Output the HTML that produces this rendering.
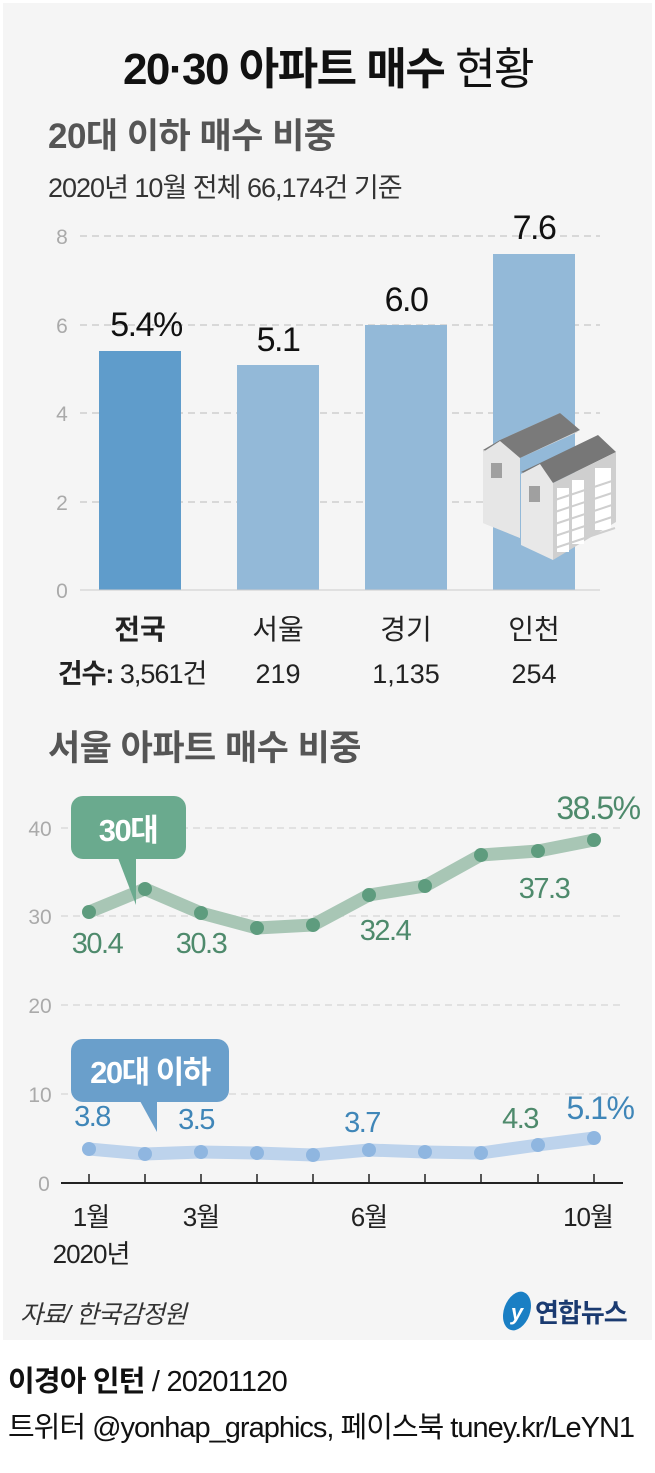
<!DOCTYPE html>
<html><head><meta charset="utf-8"><style>
body{margin:0;width:655px;height:1473px;background:#fff;overflow:hidden}
svg{display:block}
text{font-family:"Liberation Sans","Noto Sans CJK KR",sans-serif}
</style></head><body>
<svg width="655" height="1473" viewBox="0 0 655 1473">
<rect x="3" y="3" width="649" height="1337" fill="#f5f5f5"/>
<text x="328" y="84" text-anchor="middle" font-size="44" font-weight="bold" fill="#111" letter-spacing="-1.5">20·30 아파트 매수 <tspan font-weight="normal">현황</tspan></text>
<text x="48" y="148" font-size="35" font-weight="bold" fill="#555" letter-spacing="-0.5">20대 이하 매수 비중</text>
<text x="48" y="197" font-size="27" fill="#333" letter-spacing="-1">2020년 10월 전체 66,174건 기준</text>
<g stroke="#c8c8c8" stroke-dasharray="7,5" stroke-width="1.2">
<line x1="80" y1="236" x2="600" y2="236"/><line x1="80" y1="325" x2="600" y2="325"/><line x1="80" y1="413" x2="600" y2="413"/><line x1="80" y1="502" x2="600" y2="502"/></g>
<g font-size="21" fill="#aaa" text-anchor="middle"><text x="62" y="244">8</text><text x="62" y="333">6</text><text x="62" y="421">4</text><text x="62" y="510">2</text><text x="62" y="598">0</text></g>
<rect x="99" y="351" width="82" height="239" fill="#5f9ccb"/>
<rect x="237" y="365" width="82" height="225" fill="#93b9d8"/>
<rect x="365" y="325" width="82" height="265" fill="#93b9d8"/>
<rect x="493" y="254" width="82" height="336" fill="#93b9d8"/>
<line x1="80" y1="590" x2="600" y2="590" stroke="#ccc" stroke-width="1"/>
<g font-size="34" fill="#111" text-anchor="middle" letter-spacing="-1.5"><text x="146" y="336">5.4%</text><text x="278" y="351">5.1</text><text x="406" y="311">6.0</text><text x="534" y="239">7.6</text></g>
<g>
<polygon points="483,450 500,440 560,413 578,432 520,458 520,538 483,523" fill="#d9d9d9"/>
<polygon points="483,450 500,440 560,413 580,430 520,458" fill="#7a7a7a"/>
<polygon points="483,452 500,441 520,458 520,538 483,523" fill="#e6e6e6"/>
<rect x="491" y="463" width="11" height="15" fill="#a0a0a0"/>
<polygon points="521,472 540,463 598,435 616,452 553,483" fill="#777"/>
<polygon points="521,474 540,464 553,483 553,560 521,545" fill="#e8e8e8"/>
<polygon points="553,483 616,452 616,522 553,560" fill="#cfcfcf"/>
<rect x="529" y="486" width="11" height="16" fill="#a0a0a0"/>
<g fill="#fff"><rect x="557" y="488" width="12" height="64"/><rect x="572" y="480" width="12" height="64"/><rect x="595" y="468" width="16" height="62"/></g>
<g stroke="#cfcfcf" stroke-width="2"><line x1="555" y1="500" x2="615" y2="480"/><line x1="555" y1="512" x2="615" y2="492"/><line x1="555" y1="524" x2="615" y2="504"/><line x1="555" y1="536" x2="615" y2="516"/><line x1="555" y1="548" x2="615" y2="528"/></g>
</g>
<g font-size="28" fill="#222" text-anchor="middle"><text x="140" y="639" font-weight="bold">전국</text><text x="278" y="639">서울</text><text x="406" y="639">경기</text><text x="534" y="639">인천</text>
<text x="132" y="683" font-weight="bold" font-size="27" letter-spacing="-1">건수: <tspan font-weight="normal">3,561건</tspan></text><text x="278" y="683" font-size="27">219</text><text x="406" y="683" font-size="27">1,135</text><text x="534" y="683" font-size="27">254</text></g>
<text x="48" y="760" font-size="35" font-weight="bold" fill="#555" letter-spacing="-0.5">서울 아파트 매수 비중</text>
<g stroke="#d5d5d5" stroke-dasharray="7,5" stroke-width="1.2">
<line x1="61" y1="828" x2="623" y2="828"/><line x1="61" y1="916" x2="623" y2="916"/><line x1="61" y1="1005" x2="623" y2="1005"/><line x1="61" y1="1094" x2="623" y2="1094"/></g>
<g font-size="21" fill="#aaa" text-anchor="middle"><text x="40" y="836">40</text><text x="40" y="924">30</text><text x="40" y="1013">20</text><text x="40" y="1102">10</text><text x="44" y="1191">0</text></g>
<line x1="61" y1="1183" x2="623" y2="1183" stroke="#222" stroke-width="2"/>
<g stroke="#222" stroke-width="1.5"><line x1="89" y1="1174" x2="89" y2="1183"/><line x1="145" y1="1174" x2="145" y2="1183"/><line x1="201" y1="1174" x2="201" y2="1183"/><line x1="257" y1="1174" x2="257" y2="1183"/><line x1="313" y1="1174" x2="313" y2="1183"/><line x1="369" y1="1174" x2="369" y2="1183"/><line x1="425" y1="1174" x2="425" y2="1183"/><line x1="481" y1="1174" x2="481" y2="1183"/><line x1="538" y1="1174" x2="538" y2="1183"/><line x1="594" y1="1174" x2="594" y2="1183"/></g>
<polyline points="89,912 145,889 201,913 257,928 313,925 369,895 425,886 481,855 538,851 594,840" fill="none" stroke="#a8c6b5" stroke-width="13" stroke-linejoin="round" stroke-linecap="round"/>
<g fill="#5e9c7e"><circle cx="89" cy="912" r="7"/><circle cx="145" cy="889" r="7"/><circle cx="201" cy="913" r="7"/><circle cx="257" cy="928" r="7"/><circle cx="313" cy="925" r="7"/><circle cx="369" cy="895" r="7"/><circle cx="425" cy="886" r="7"/><circle cx="481" cy="855" r="7"/><circle cx="538" cy="851" r="7"/><circle cx="594" cy="840" r="7"/></g>
<polyline points="89,1149 145,1154 201,1152 257,1153 313,1155 369,1150 425,1152 481,1153 538,1145 594,1138" fill="none" stroke="#bdd3ec" stroke-width="13" stroke-linejoin="round" stroke-linecap="round"/>
<g fill="#8fb6e0"><circle cx="89" cy="1149" r="7"/><circle cx="145" cy="1154" r="7"/><circle cx="201" cy="1152" r="7"/><circle cx="257" cy="1153" r="7"/><circle cx="313" cy="1155" r="7"/><circle cx="369" cy="1150" r="7"/><circle cx="425" cy="1152" r="7"/><circle cx="481" cy="1153" r="7"/><circle cx="538" cy="1145" r="7"/><circle cx="594" cy="1138" r="7"/></g>
<g font-size="29" fill="#4e8a6c" text-anchor="middle" letter-spacing="-1.5"><text x="97" y="953">30.4</text><text x="201" y="953">30.3</text><text x="385" y="940">32.4</text><text x="544" y="898">37.3</text><text x="598" y="819" font-size="32">38.5%</text><text x="520" y="1128">4.3</text></g>
<g font-size="29" fill="#3f86b8" text-anchor="middle" letter-spacing="-1.5"><text x="92" y="1126">3.8</text><text x="196" y="1129">3.5</text><text x="362" y="1132">3.7</text><text x="600" y="1119" font-size="32">5.1%</text></g>
<rect x="71" y="796" width="115" height="63" rx="12" fill="#6aaa8e"/>
<polygon points="118,858 136,858 136,905" fill="#6aaa8e"/>
<text x="128" y="841" font-size="31" fill="#fff" text-anchor="middle" font-weight="bold" letter-spacing="-1.5">30대</text>
<rect x="71" y="1039" width="158" height="63" rx="12" fill="#6a9fcb"/>
<polygon points="140,1101 157,1101 157,1132" fill="#6a9fcb"/>
<text x="150" y="1083" font-size="31" fill="#fff" text-anchor="middle" font-weight="bold" letter-spacing="-1.5">20대 이하</text>
<g font-size="26" fill="#222" text-anchor="middle" letter-spacing="-1"><text x="91" y="1226">1월</text><text x="91" y="1263">2020년</text><text x="201" y="1226">3월</text><text x="369" y="1226">6월</text><text x="588" y="1226">10월</text></g>
<text x="20" y="1323" font-size="25" fill="#333" font-style="italic" letter-spacing="-1">자료/ 한국감정원</text>
<ellipse cx="517" cy="1311" rx="13" ry="20" fill="#1a7fc4" transform="rotate(20 517 1311)"/>
<text x="517" y="1320" font-size="22" fill="#fff" font-style="italic" text-anchor="middle" font-weight="bold">y</text>
<text x="535" y="1322" font-size="26" fill="#1a3a70" font-weight="bold" letter-spacing="-1">연합뉴스</text>
<text x="8" y="1391" font-size="29" fill="#111" letter-spacing="-0.8"><tspan font-weight="bold">이경아 인턴</tspan> /  20201120</text>
<text x="8" y="1437" font-size="29" fill="#111" letter-spacing="-1">트위터 @yonhap_graphics, 페이스북 tuney.kr/LeYN1</text>
</svg>
</body></html>
